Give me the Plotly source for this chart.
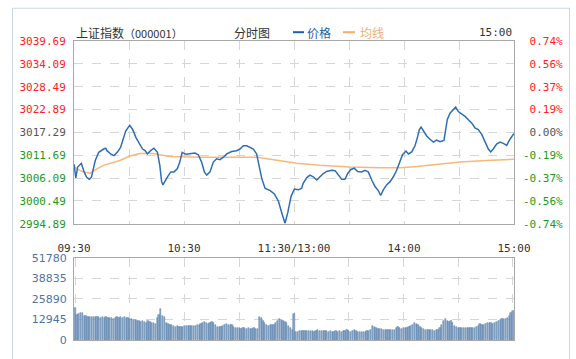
import plotly.graph_objects as go

# ---------------- data ----------------
base_price = 3017.29
price_ticks = [2994.89, 3000.49, 3006.09, 3011.69, 3017.29, 3022.89, 3028.49, 3034.09, 3039.69]
time_tickvals = [0, 30, 60, 90, 120, 150, 180, 210, 240]
time_ticktext = ["09:30", "", "10:30", "", "11:30/13:00", "", "14:00", "", "15:00"]
vol_ticks = [0, 12945, 25890, 38835, 51780]

price_min = [0, 1, 2, 4, 5.5, 7, 8.4, 9.5, 11.6, 13.5, 16.2, 17.3, 18, 20, 21.8, 23.6, 25.4, 27.3, 28.2,
             30.4, 32, 33.8, 35.6, 37.4, 38.8, 40, 41.8, 43.6, 45.5, 46.8, 47.8, 48.5, 51, 52.8, 54.6,
             56.4, 57.7, 59, 61, 63.3, 66, 67.8, 69.6, 71.1, 72.4, 74.2, 76, 77.8, 79.6, 81.5, 83.3,
             86, 88.7, 90.5, 92.4, 94.2, 96, 97.8, 99.6, 101, 102.4, 104.2, 107, 109.3, 111.5, 113.3,
             115.1, 116.6, 118.4, 120.2, 122.4, 124.2, 125, 127, 128.7, 130.5, 132.4, 134.2, 136,
             137.8, 140.5, 142.4, 144.2, 146, 147.8, 149.3, 151, 152.9, 154.7, 156.9, 158.7, 160.5,
             162.4, 164.2, 166, 167.3, 168.7, 170.5, 172.4, 174.2, 176, 177.5, 179.2, 181.1, 182.4,
             184.2, 186, 187.3, 188.4, 189.3, 190.6, 192.4, 194.2, 196, 197.8, 199.6, 201.8, 202.7,
             203.6, 205.1, 206.9, 208.2, 209.6, 211.5, 213.3, 215.1, 216.9, 218.7, 220.5, 222.4,
             224.2, 226, 227.3, 228.7, 230.5, 232.4, 234.2, 236, 237.8, 239.6, 240]
price_val = [3009.5, 3006.1, 3008.8, 3009.7, 3007.6, 3006.2, 3005.8, 3006.3, 3010.4, 3012.4, 3013.2,
             3013.4, 3012.8, 3012.0, 3011.6, 3012.4, 3013.6, 3016.4, 3017.6, 3019.0, 3018.0, 3016.0,
             3014.4, 3013.2, 3012.8, 3012.0, 3012.8, 3013.4, 3012.4, 3009.2, 3005.2, 3004.4, 3006.4,
             3007.6, 3007.6, 3008.4, 3010.0, 3012.4, 3011.9, 3012.0, 3012.2, 3011.8, 3010.0, 3007.6,
             3006.8, 3007.6, 3010.0, 3010.8, 3010.6, 3011.2, 3012.0, 3012.6, 3012.8, 3013.2, 3014.0,
             3014.0, 3013.6, 3013.2, 3012.0, 3009.2, 3006.0, 3003.6, 3003.0, 3002.2, 3000.4, 2997.6,
             2995.0, 2997.6, 3001.6, 3003.4, 3003.2, 3003.6, 3004.8, 3006.2, 3006.8, 3006.4, 3005.6,
             3006.4, 3007.2, 3007.7, 3008.0, 3007.9, 3006.8, 3005.8, 3005.8, 3007.2, 3008.2, 3008.5,
             3007.7, 3007.6, 3008.0, 3007.6, 3005.6, 3004.0, 3003.0, 3001.8, 3003.2, 3004.4, 3005.2,
             3006.4, 3008.0, 3009.6, 3011.8, 3012.7, 3012.0, 3012.5, 3014.0, 3016.0, 3018.0, 3018.6,
             3017.6, 3016.4, 3015.6, 3014.9, 3015.4, 3015.0, 3015.3, 3018.0, 3020.4, 3022.0, 3022.8,
             3023.5, 3022.4, 3021.8, 3021.2, 3020.4, 3019.6, 3018.4, 3018.0, 3016.8, 3014.8, 3013.2,
             3012.5, 3013.2, 3014.4, 3014.9, 3014.6, 3014.1, 3015.6, 3016.8, 3017.0]

avg_min = [0, 2, 5, 8.7, 12, 16, 25, 30.5, 36, 43, 52, 70, 100, 110.5, 121.5, 134, 141.5, 150.5,
           167, 178, 187, 200, 210.5, 225, 240]
avg_val = [3008.9, 3008.2, 3007.6, 3007.3, 3008.2, 3009.2, 3010.4, 3011.5, 3012.1, 3012.1, 3011.4,
           3011.2, 3011.2, 3010.4, 3009.7, 3009.2, 3009.0, 3008.8, 3008.6, 3008.6, 3008.95, 3009.6,
           3010.0, 3010.4, 3010.7]

volume = [
    20400, 16000, 16500, 16800, 17000, 15500, 15000, 14500, 14800, 14600,
    14400, 14700, 14300, 14500, 14200, 14400, 14100, 14300, 14000, 14200,
    13800, 13600, 14000, 14300, 14100, 14600, 14200, 14400, 14000, 13700,
    13400, 13100, 12800, 12500, 12200, 12000, 11500, 11800, 11300, 11000,
    11800, 11200, 10800, 10500, 10000, 14000, 16000, 19300, 15500, 14500,
    11000, 10200, 9800, 9500, 8800, 8400, 8600, 8300, 8500, 8400,
    8900, 9000, 9200, 8600, 8800, 9100, 8900, 9600, 9800, 10100,
    10500, 11300, 11000, 10200, 10800, 11200, 10600, 9300, 8400, 8200,
    8300, 8800, 9500, 9900, 9700, 9800, 9400, 8000, 7600, 7400,
    7500, 7300, 7600, 7400, 7200, 7500, 7300, 7100, 7400, 7200,
    7000, 14300, 14000, 12000, 10500, 9600, 9000, 9300, 9800, 9500,
    10500, 12000, 13000, 12400, 11800, 11300, 10500, 9000, 7500, 6400,
    16300,
    4800, 5200, 5500, 5600, 5700, 5800, 5600, 5900, 6000, 5800,
    5400, 5600, 6100, 5900, 5800, 6000, 5500, 5700, 5400, 5600,
    5300, 5100, 5500, 5400, 5600, 5300, 5500, 5800, 6200, 5900,
    5400, 5700, 6100, 5800, 5400, 5200, 5300, 5100, 5300, 5600,
    5900, 6400, 9000, 8300, 7700, 7200, 7000, 6800, 6600, 6500,
    6600, 6400, 6500, 6300, 6600, 7500, 8000, 7800, 7200, 7400,
    7900, 7600, 8200, 8900, 9800, 10700, 10200, 9300, 8400, 7600,
    6800, 6400, 6300, 6500, 6200, 6400, 6000, 6300, 6500, 7800,
    9500, 12000, 13000, 11800, 11500, 12000, 10800, 9000, 8300, 7900,
    7600, 7800, 7500, 7700, 7900, 7600, 7800, 7700, 7900, 8200,
    8800, 10200, 9800, 9500, 10300, 10900, 10500, 10700, 10400, 10900,
    11500, 12000, 12600, 13100, 13400, 13600, 14000, 15200, 16800, 18200,
]
vol_min = list(range(len(volume)))

# ---------------- styling / geometry ----------------
W, H = 576, 359
L, R, T, B = 74, 514, 41, 347          # pixel box of the whole chart area
MAIN_BOTTOM, VOL_TOP = 228, 263


def px_x(p):
    return (p - L) / (R - L)


def px_y(p):
    return (B - p) / (B - T)


RED, GREEN, GREY = "#ff2020", "#1a9a1a", "#555555"
BLUE, ORANGE = "#2f6db5", "#f7b87a"
MONO = "DejaVu Sans Mono, monospace"
CJK = "Noto Sans CJK SC, sans-serif"
GRID = "#d6d6d6"
AXLINE = "#a8a8a8"


def col(v):
    if abs(v - base_price) < 1e-6:
        return GREY
    return RED if v > base_price else GREEN


left_text = [f"<span style='color:{col(v)}'>{v:.2f}</span>" for v in price_ticks]
pct_ticks = [(v / base_price - 1) * 100 for v in price_ticks]
right_text = []
for v, p in zip(pct_ticks, price_ticks):
    s = f"{v:.2f}%"
    if v >= -1e-9:
        s = "\u00a0" + s.replace("-", "")
    right_text.append(f"<span style='color:{col(p)}'>{s}</span>")

fig = go.Figure()
fig.add_trace(go.Scatter(x=avg_min, y=avg_val, mode="lines", line=dict(color=ORANGE, width=1.5),
                         xaxis="x", yaxis="y", hoverinfo="skip", showlegend=False))
fig.add_trace(go.Scatter(x=price_min, y=price_val, mode="lines", line=dict(color=BLUE, width=1.5),
                         xaxis="x", yaxis="y", showlegend=False))
fig.add_trace(go.Scatter(x=price_min, y=[(v / base_price - 1) * 100 for v in price_val], mode="lines",
                         line=dict(width=0), opacity=0, xaxis="x", yaxis="y2",
                         hoverinfo="skip", showlegend=False))
fig.add_trace(go.Bar(x=vol_min, y=volume, width=0.7,
                     marker=dict(color="#8ea9c8", line=dict(width=0.5, color="#4f79a6")),
                     xaxis="x2", yaxis="y3", showlegend=False))

main_bottom = px_y(MAIN_BOTTOM)
vol_top = px_y(VOL_TOP)

common_grid = dict(showgrid=True, gridcolor=GRID, griddash="dash", gridwidth=1, zeroline=False,
                   showline=True, linecolor=AXLINE, linewidth=1, mirror=True, ticks="")

fig.update_layout(
    width=W, height=H, autosize=False,
    margin=dict(l=L, r=W - R, t=T, b=H - B, pad=0),
    paper_bgcolor="white", plot_bgcolor="white",
    showlegend=False,
    bargap=0,
    xaxis=dict(domain=[0, 1], anchor="y", range=[0, 240], tickvals=time_tickvals, ticktext=time_ticktext,
               tickfont=dict(family=MONO, size=11, color="#333333"), ticklabelstandoff=14, **common_grid),
    yaxis=dict(domain=[main_bottom, 1], anchor="x", range=[price_ticks[0], price_ticks[-1]],
               tickvals=price_ticks, ticktext=left_text, tickfont=dict(family=MONO, size=11),
               ticklabelstandoff=5, **common_grid),
    yaxis2=dict(overlaying="y", side="right", anchor="x", range=[pct_ticks[0], pct_ticks[-1]],
                tickvals=pct_ticks, ticktext=right_text, tickfont=dict(family=MONO, size=11),
                showgrid=False, zeroline=False, showline=False, ticks="", ticklabelstandoff=8),
    xaxis2=dict(domain=[0, 1], anchor="y3", range=[-0.6, 240.6], tickvals=time_tickvals,
                showticklabels=False, **common_grid),
    yaxis3=dict(domain=[0, vol_top], anchor="x2", range=[0, vol_ticks[-1]], tickvals=vol_ticks,
                ticktext=[str(v) for v in vol_ticks],
                tickfont=dict(family="DejaVu Sans, sans-serif", size=11, color="#4f74a0"),
                ticklabelstandoff=4, **common_grid),
)

head_y = px_y(32)
annotations = [
    dict(text="上证指数<span style='font-size:11px'>（000001）</span>", x=px_x(74), y=head_y,
         xanchor="left", font=dict(family=CJK, size=12, color="#333333")),
    dict(text="分时图", x=px_x(252), y=head_y, xanchor="center", font=dict(family=CJK, size=12, color="#333333")),
    dict(text="价格", x=px_x(305), y=head_y, xanchor="left", font=dict(family=CJK, size=12, color="#1f5fa8")),
    dict(text="均线", x=px_x(358), y=head_y, xanchor="left", font=dict(family=CJK, size=12, color="#f4ae6a")),
    dict(text="15:00", x=px_x(514), y=head_y, xanchor="right", font=dict(family=MONO, size=11, color="#333333")),
]
for a in annotations:
    a.update(xref="paper", yref="paper", yanchor="middle", showarrow=False)
fig.update_layout(annotations=annotations)

shapes = [
    dict(type="line", x0=px_x(293), x1=px_x(304), y0=head_y, y1=head_y, line=dict(color="#1f5fa8", width=2)),
    dict(type="line", x0=px_x(343), x1=px_x(355), y0=head_y, y1=head_y, line=dict(color="#f4ae6a", width=2)),
    dict(type="rect", x0=px_x(12.5), x1=px_x(569.5), y0=px_y(370), y1=px_y(7.5),
         line=dict(color="#cbd7e6", width=1), fillcolor="rgba(0,0,0,0)", layer="below"),
]
for s in shapes:
    s.update(xref="paper", yref="paper")
fig.update_layout(shapes=shapes)

fig.write_html("out.html")
